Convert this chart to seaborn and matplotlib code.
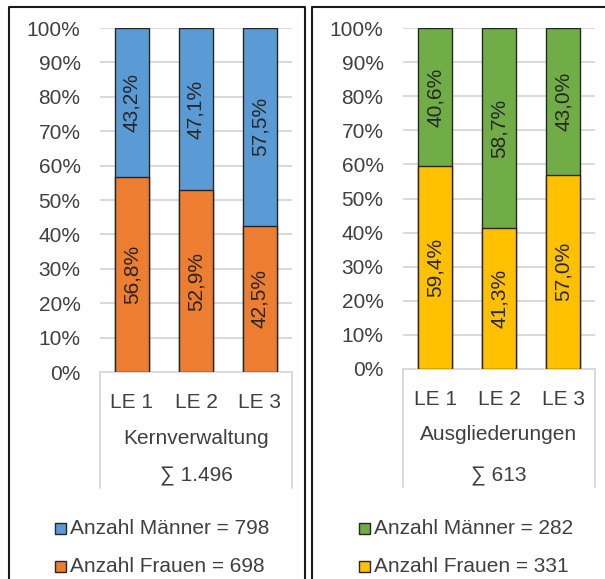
import matplotlib
matplotlib.use("Agg")
import matplotlib.pyplot as plt
from matplotlib.patches import Rectangle
from matplotlib.lines import Line2D
import numpy as np
import pandas as pd
import seaborn as sns

# data
groups = ["LE 1", "LE 2", "LE 3"]
kern_frauen = [56.8, 52.9, 42.5]
kern_maenner = [43.2, 47.1, 57.5]
ausg_frauen = [59.4, 41.3, 57.0]
ausg_maenner = [40.6, 58.7, 43.0]
panel_titles = ["Kernverwaltung", "Ausgliederungen"]
panel_sums = ["\u2211 1.496", "\u2211 613"]
legend_maenner = ["Anzahl Männer = 798", "Anzahl Männer = 282"]
legend_frauen = ["Anzahl Frauen = 698", "Anzahl Frauen = 331"]

sns.set_theme(style="white")
plt.rcParams["font.family"] = ["Liberation Sans", "DejaVu Sans"]

W, H = 605, 579
fig = plt.figure(figsize=(W / 100, H / 100), dpi=100)

def fx(x):
    return x / W

def fy(y):
    return 1 - y / H

txt_col = "#404040"
edge = "#262626"
fs = 15

panels = [
    dict(frauen=kern_frauen, maenner=kern_maenner, c_m="#5B9BD5", c_f="#ED7D31",
         box=(100, 292, 28, 372), title_y=438, sum_y=476, box_bottom=488,
         leg_x=55),
    dict(frauen=ausg_frauen, maenner=ausg_maenner, c_m="#70AD47", c_f="#FFC000",
         box=(403, 595, 28, 369), title_y=434, sum_y=476, box_bottom=487,
         leg_x=359),
]

for i, p in enumerate(panels):
    x0, x1, y0, y1 = p["box"]
    ax = fig.add_axes([fx(x0), fy(y1), fx(x1 - x0), (y1 - y0) / H])
    df = pd.DataFrame({"LE": groups,
                       "frauen": np.array(p["frauen"]) / 100,
                       "maenner": np.array(p["maenner"]) / 100})
    df["total"] = df["frauen"] + df["maenner"]

    sns.barplot(data=df, x="LE", y="total", color=p["c_m"], saturation=1,
                width=0.53, edgecolor=edge, linewidth=1, errorbar=None, ax=ax, zorder=2)
    sns.barplot(data=df, x="LE", y="frauen", color=p["c_f"], saturation=1,
                width=0.53, edgecolor=edge, linewidth=1, errorbar=None, ax=ax, zorder=3)

    for j, row in df.iterrows():
        ax.text(j, row["frauen"] / 2, f"{row['frauen'] * 100:.1f}%".replace(".", ","),
                rotation=90, ha="center", va="center", fontsize=fs, color="#262626", zorder=4)
        ax.text(j, row["frauen"] + row["maenner"] / 2,
                f"{row['maenner'] * 100:.1f}%".replace(".", ","),
                rotation=90, ha="center", va="center", fontsize=fs, color="#262626", zorder=4)

    ax.set_ylim(0, 1)
    ax.set_xlim(-0.5, 2.5)
    ax.set_yticks(np.arange(0, 1.01, 0.1))
    ax.set_yticklabels([f"{int(round(v * 100))}%" for v in np.arange(0, 1.01, 0.1)])
    ax.yaxis.grid(True, color="#D9D9D9", linewidth=1.4)
    ax.set_axisbelow(True)
    ax.tick_params(axis="y", length=0, pad=14, labelsize=fs, labelcolor=txt_col)
    ax.tick_params(axis="x", length=0, pad=15, labelsize=fs, labelcolor=txt_col)
    ax.set_xlabel("")
    ax.set_ylabel("")
    for s in ["top", "left", "right"]:
        ax.spines[s].set_visible(False)
    ax.spines["bottom"].set_color("#D9D9D9")
    ax.spines["bottom"].set_linewidth(1.4)

    # category box lines
    for xv in (x0, x1):
        fig.add_artist(Line2D([fx(xv), fx(xv)], [fy(y1), fy(p["box_bottom"])],
                              color="#D9D9D9", linewidth=1.4))
    cx = (x0 + x1) / 2
    fig.text(fx(cx), fy(p["title_y"]), panel_titles[i], ha="center", va="center",
             fontsize=fs, color=txt_col)
    fig.text(fx(cx), fy(p["sum_y"]), panel_sums[i], ha="center", va="center",
             fontsize=fs, color=txt_col)

    # legend
    lx = p["leg_x"]
    for yy, col, lab in [(528, p["c_m"], legend_maenner[i]), (566, p["c_f"], legend_frauen[i])]:
        fig.add_artist(Rectangle((fx(lx), fy(yy + 5.5)), fx(11), 11 / H,
                                 facecolor=col, edgecolor=edge, linewidth=1))
        fig.text(fx(lx + 15), fy(yy), lab, ha="left", va="center",
                 fontsize=fs, color=txt_col)

# panel frames
fig.add_artist(Line2D([fx(9), fx(9), fx(305), fx(305)], [0, fy(7), fy(7), 0],
                      color="#1a1a1a", linewidth=1.5))
fig.add_artist(Line2D([fx(312), fx(312), 1.0], [0, fy(7), fy(7)],
                      color="#1a1a1a", linewidth=1.5))

fig.savefig("out.png", dpi=100)
